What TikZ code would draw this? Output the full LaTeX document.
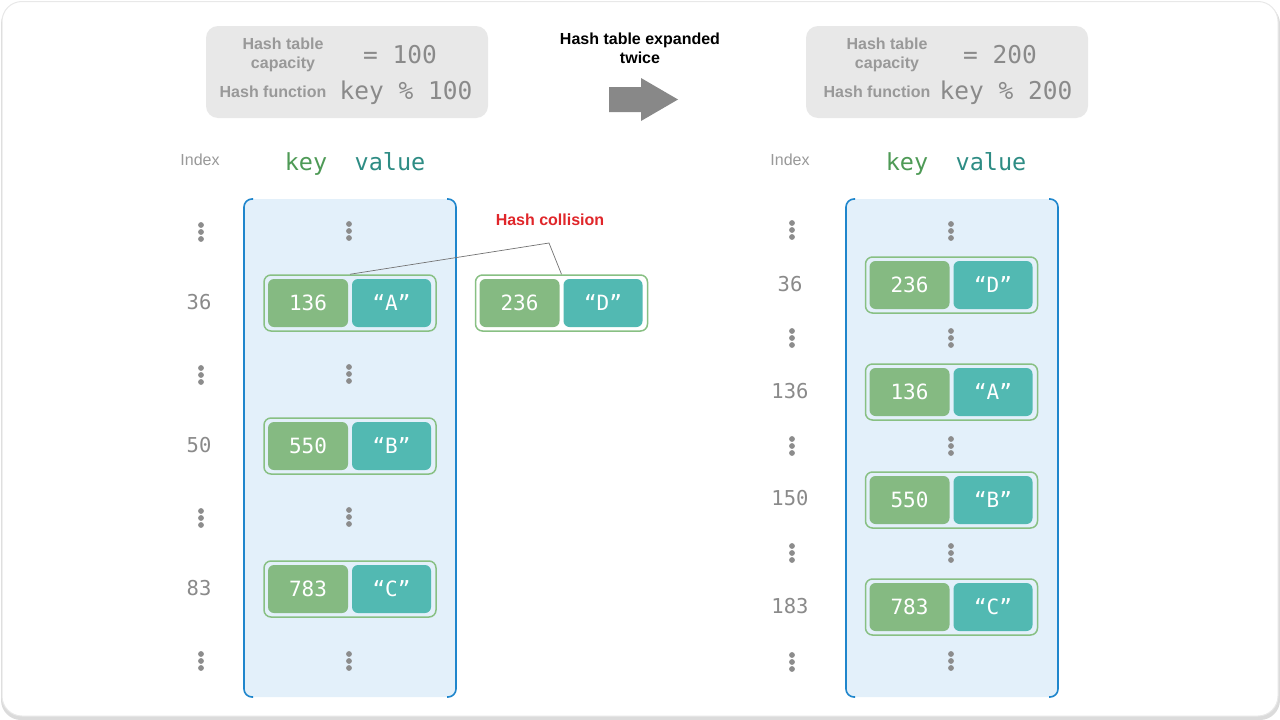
\documentclass[tikz,border=0pt]{standalone}
\usepackage{fontspec}
\setmainfont{Liberation Sans}
\setmonofont{DejaVu Sans Mono}
\usetikzlibrary{calc}
\definecolor{boxgray}{HTML}{E8E8E8}
\definecolor{txtgray}{HTML}{999999}
\definecolor{monogray}{HTML}{8A8A8A}
\definecolor{keygreen}{HTML}{4E9A56}
\definecolor{valteal}{HTML}{2E8C84}
\definecolor{panelfill}{HTML}{E3F0FA}
\definecolor{panelline}{HTML}{1F86CC}
\definecolor{cellkey}{HTML}{85BA82}
\definecolor{cellval}{HTML}{52B9B2}
\definecolor{outergreen}{HTML}{88C083}
\definecolor{dotgray}{HTML}{8C8C8C}
\definecolor{collred}{HTML}{E0262A}
\definecolor{arrowgray}{HTML}{888888}
\tikzset{
  lbl/.style={font=\fontsize{16}{19.5}\selectfont\bfseries, text=txtgray, align=center, inner sep=0},
  eqn/.style={font=\ttfamily\fontsize{24.5}{27}\selectfont, text=monogray, inner sep=0, anchor=base},
  idxlbl/.style={font=\fontsize{16}{18}\selectfont, text=txtgray, inner sep=0},
  idxnum/.style={font=\ttfamily\fontsize{20.5}{22}\selectfont, text=monogray, inner sep=0},
  hdkey/.style={font=\ttfamily\fontsize{23.5}{26}\selectfont, text=keygreen, inner sep=0, anchor=base},
  hdval/.style={font=\ttfamily\fontsize{23.5}{26}\selectfont, text=valteal, inner sep=0, anchor=base},
  kvouter/.style={draw=outergreen, line width=1.5pt, rounded corners=7pt, minimum width=172pt, minimum height=56pt, inner sep=0},
  keycell/.style={fill=cellkey, rounded corners=6pt, minimum width=80pt, minimum height=48pt, inner sep=0, text=white, font=\ttfamily\fontsize{21}{22}\selectfont},
  valcell/.style={fill=cellval, rounded corners=6pt, minimum width=79pt, minimum height=48pt, inner sep=0, text=white, font=\ttfamily\fontsize{21}{22}\selectfont},
  infobox/.style={fill=boxgray, rounded corners=12pt, minimum width=282pt, minimum height=92pt, inner sep=0},
  panelborder/.style={draw=panelline, line width=1.6pt, rounded corners=8pt},
}
\newcommand{\kvrow}[5]{%
  \node[kvouter] (#1) at (#2,#3) {};
  \node[keycell] (#1k) at ($(#1.center)+(-42,0)$) {#4};
  \node[valcell] (#1v) at ($(#1.center)+(41.5,0)$) {#5};
}
\newcommand{\tridots}[2]{%
  \fill[dotgray] (#1,#2-7) circle[radius=2.9pt] (#1,#2) circle[radius=2.9pt] (#1,#2+7) circle[radius=2.9pt];
}
\begin{document}
\begin{tikzpicture}[x=1pt,y=-1pt]
\useasboundingbox (0,0) rectangle (1280,720);
% outer frame
\fill[black!14, rounded corners=20pt] (1,4) rectangle (1280,720);
\fill[white, draw=black!9, line width=1pt, rounded corners=20pt] (2,1.5) rectangle (1278,716);

% ---------- left info box ----------
\node[infobox] (infoL) at (347,72) {};
\node[lbl] (capL) at (283,55) {Hash table\\capacity};
\node[eqn] (eqL) at (400,63) {= 100};
\node[lbl] (fnL) at (273,92) {Hash function};
\node[eqn] (modL) at (406,99) {key \% 100};

% ---------- right info box ----------
\node[infobox] (infoR) at (947,72) {};
\node[lbl] (capR) at (887,55) {Hash table\\capacity};
\node[eqn] (eqR) at (1000,63) {= 200};
\node[lbl] (fnR) at (877,92) {Hash function};
\node[eqn] (modR) at (1006,99) {key \% 200};

% ---------- middle arrow ----------
\node[font=\fontsize{16}{19.5}\selectfont\bfseries, align=center, inner sep=0] (expand) at (640,48.5) {Hash table expanded\\twice};
\fill[arrowgray] (609,87) -- (641,87) -- (641,78) -- (678,99.5) -- (641,121) -- (641,112) -- (609,112) -- cycle;

% ---------- left table ----------
\node[idxlbl] (indexL) at (200,160) {Index};
\node[hdkey] (keyL) at (306,170) {key};
\node[hdval] (valL) at (390,170) {value};
\fill[panelfill, rounded corners=8pt] (244,199) rectangle (456,697);
\draw[panelborder] (253,199) -- (244,199) -- (244,697) -- (253,697);
\draw[panelborder] (447,199) -- (456,199) -- (456,697) -- (447,697);

\foreach \y in {232,375,518,661} { \tridots{201}{\y} }
\foreach \y in {231,374,517,661} { \tridots{349}{\y} }
\node[idxnum] (iL36) at (199,302) {36};
\node[idxnum] (iL50) at (199,445) {50};
\node[idxnum] (iL83) at (199,588) {83};
\kvrow{eA}{350}{303}{136}{“A”}
\kvrow{eB}{350}{446}{550}{“B”}
\kvrow{eC}{350}{589}{783}{“C”}
\kvrow{eD}{561.5}{303}{236}{“D”}

\node[font=\fontsize{16}{18}\selectfont\bfseries, text=collred, inner sep=0] (coll) at (550,220) {Hash collision};
\coordinate (bend) at (549,243);
\draw[black!55, line width=0.7pt] (eA.north) -- (bend) -- (eD.north);

% ---------- right table ----------
\node[idxlbl] (indexR) at (790,160) {Index};
\node[hdkey] (keyR) at (907,170) {key};
\node[hdval] (valR) at (991,170) {value};
\fill[panelfill, rounded corners=8pt] (846,199) rectangle (1058,697);
\draw[panelborder] (855,199) -- (846,199) -- (846,697) -- (855,697);
\draw[panelborder] (1049,199) -- (1058,199) -- (1058,697) -- (1049,697);

\foreach \y in {230,338,446,553,662} { \tridots{792}{\y} }
\foreach \y in {231,338,446,553,661} { \tridots{951}{\y} }
\node[idxnum] (iR36) at (790,284) {36};
\node[idxnum] (iR136) at (790,391) {136};
\node[idxnum] (iR150) at (790,498) {150};
\node[idxnum] (iR183) at (790,606) {183};
\kvrow{rD}{951.5}{285}{236}{“D”}
\kvrow{rA}{951.5}{392}{136}{“A”}
\kvrow{rB}{951.5}{500}{550}{“B”}
\kvrow{rC}{951.5}{607}{783}{“C”}
\end{tikzpicture}
\end{document}
